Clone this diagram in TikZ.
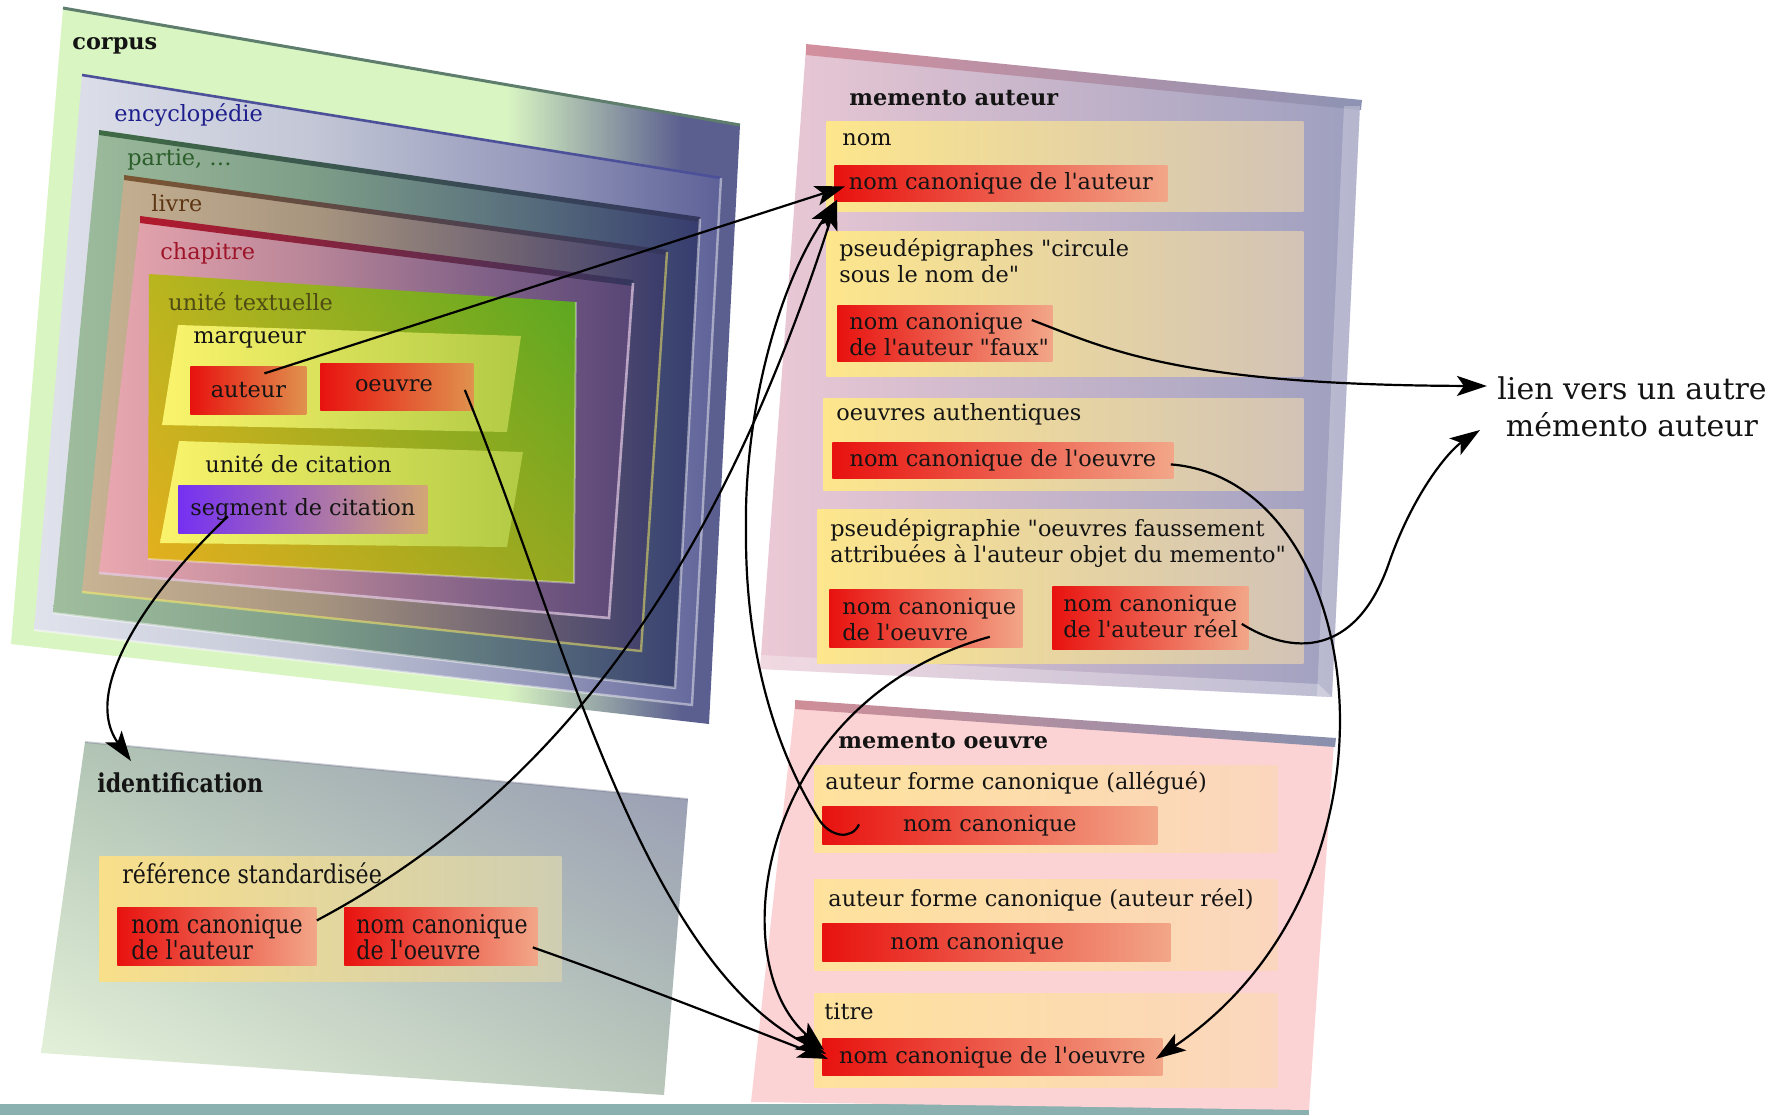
\documentclass[tikz,border=0pt]{standalone}
\usepackage{fontspec}
\newfontfamily\dvfont{DejaVu Serif}
\newfontfamily\dvcond{DejaVu Serif}[FakeStretch=0.85]
\usetikzlibrary{arrows.meta,calc,shadings}
\definecolor{cgreen}{HTML}{D9F5C2}
\definecolor{cslate}{HTML}{5B5F8F}
\definecolor{corpTop}{HTML}{5E7D6C}
\definecolor{encL}{HTML}{E0E3EC}
\definecolor{encM}{HTML}{C3C7D6}
\definecolor{encMM}{HTML}{9497BA}
\definecolor{encR}{HTML}{5D6197}
\definecolor{encTop}{HTML}{4C5098}
\definecolor{parL}{HTML}{A0BE9E}
\definecolor{parM}{HTML}{7E9E88}
\definecolor{parMM}{HTML}{566C7C}
\definecolor{parR}{HTML}{373C6E}
\definecolor{parTop}{HTML}{3F6B45}
\definecolor{livL}{HTML}{C8B393}
\definecolor{livM}{HTML}{A8957F}
\definecolor{livMM}{HTML}{6E6272}
\definecolor{livR}{HTML}{3A3B6B}
\definecolor{livTop}{HTML}{7B5632}
\definecolor{chaL}{HTML}{EAA8B0}
\definecolor{chaM}{HTML}{B88598}
\definecolor{chaMM}{HTML}{7E5F86}
\definecolor{chaR}{HTML}{584676}
\definecolor{chaTop}{HTML}{B3192C}
\definecolor{darkTop}{HTML}{34365E}
\definecolor{utUL}{HTML}{B9B51F}
\definecolor{utUR}{HTML}{58A821}
\definecolor{utLL}{HTML}{E6AF1E}
\definecolor{utLR}{HTML}{93A820}
\definecolor{mqL}{HTML}{FAF46C}
\definecolor{mqR}{HTML}{B2CA44}
\definecolor{redL}{HTML}{E8120F}
\definecolor{redR}{HTML}{F2A688}
\definecolor{redR2}{HTML}{E0924E}
\definecolor{segL}{HTML}{7530F2}
\definecolor{segR}{HTML}{D3A676}
\definecolor{yelL}{HTML}{FDE68C}
\definecolor{yelR}{HTML}{D2C3B6}
\definecolor{moYL}{HTML}{FEE29C}
\definecolor{moYR}{HTML}{FBD6BE}
\definecolor{refYL}{HTML}{F8DF8A}
\definecolor{refYR}{HTML}{CFCEB2}
\definecolor{maL}{HTML}{ECC9D5}
\definecolor{maR}{HTML}{9D9FBF}
\definecolor{maTL}{HTML}{D38F9D}
\definecolor{maTR}{HTML}{8E93B3}
\definecolor{moP}{HTML}{FCD3D4}
\definecolor{moTL}{HTML}{CF8E98}
\definecolor{moTR}{HTML}{8890AD}
\definecolor{idUL}{HTML}{B3C7B4}
\definecolor{idUR}{HTML}{9699B4}
\definecolor{idLL}{HTML}{EAF6DE}
\definecolor{idLR}{HTML}{B7C6B9}
\definecolor{bandc}{HTML}{8AB0AF}
\definecolor{txtc}{HTML}{141414}
\definecolor{encC}{HTML}{1E1E8C}
\definecolor{parC}{HTML}{2C5E2C}
\definecolor{livC}{HTML}{5E3614}
\definecolor{chaC}{HTML}{9E1428}
\definecolor{utC}{HTML}{4E4C14}
\pgfdeclarehorizontalshading{corpusshade}{100bp}{color(0bp)=(cgreen); color(25bp)=(cgreen); color(59bp)=(cgreen); color(71bp)=(cslate); color(100bp)=(cslate)}
\pgfdeclarehorizontalshading{encshade}{100bp}{color(0bp)=(encL); color(25bp)=(encL); color(45bp)=(encM); color(62bp)=(encMM); color(75bp)=(encR); color(100bp)=(encR)}
\pgfdeclarehorizontalshading{parshade}{100bp}{color(0bp)=(parL); color(25bp)=(parL); color(45bp)=(parM); color(62bp)=(parMM); color(75bp)=(parR); color(100bp)=(parR)}
\pgfdeclarehorizontalshading{livshade}{100bp}{color(0bp)=(livL); color(25bp)=(livL); color(45bp)=(livM); color(62bp)=(livMM); color(75bp)=(livR); color(100bp)=(livR)}
\pgfdeclarehorizontalshading{chashade}{100bp}{color(0bp)=(chaL); color(25bp)=(chaL); color(45bp)=(chaM); color(62bp)=(chaMM); color(75bp)=(chaR); color(100bp)=(chaR)}
\begin{document}
\begin{tikzpicture}[x=0.5pt,y=-0.5pt,
  txt/.style={inner sep=0pt, anchor=west, text=txtc, font=\dvfont\fontsize{11.2}{13}\selectfont, align=left},
  btxt/.style={txt, font=\dvfont\fontsize{11.2}{13}\selectfont\bfseries},
  ctxt/.style={txt, font=\dvcond\fontsize{13}{13}\selectfont},
  cbtxt/.style={txt, font=\dvcond\fontsize{13}{13}\selectfont\bfseries},
  rbox/.style={inner sep=0pt, anchor=north west, left color=redL, right color=redR},
  ybox/.style={inner sep=0pt, anchor=north west, left color=yelL, right color=yelR},
  conn/.style={line width=1.1pt, draw=black, -{Stealth[length=15pt,width=10pt,inset=3.5pt]}},
]
\useasboundingbox (0,0) rectangle (1785,1115);
\fill[bandc] (0,1104) rectangle (1309,1115);

% ---------- identification panel
\shade[upper left=idUL, upper right=idUR, lower left=idLL, lower right=idLR]
  (85,742) -- (688,799) -- (664,1095) -- (41,1053) -- cycle;
\draw[idUR!80!black, opacity=.35, line width=1pt] (85,742) -- (688,799);

% ---------- memento auteur panel
\shade[left color=maL, right color=maR] (806,48) -- (1360,105) -- (1332,697) -- (760,669) -- cycle;
\shade[left color=maTL, right color=maTR] (806,44) -- (1362,100) -- (1361,110) -- (806,55) -- cycle;
\fill[white, opacity=.25] (1344,106) -- (1360,106) -- (1332,697) -- (1317,696) -- cycle;
\fill[white, opacity=.3] (761,655) -- (1318,684) -- (1332,697) -- (760,669) -- cycle;

% ---------- memento oeuvre panel
\fill[moP] (795,704) -- (1334,742) -- (1309,1110) -- (751,1102) -- cycle;
\shade[left color=moTL, right color=moTR] (795,700) -- (1336,738) -- (1335,747) -- (795,709) -- cycle;

% ---------- corpus nest
\shade[shading=corpusshade] (63,8) -- (740,125) -- (709,724) -- (11,644) -- cycle;
\draw[corpTop, line width=1.5pt] (63,8) -- (740,125);
\shade[shading=encshade] (82,75) -- (721,178) -- (692,705) -- (34,630) -- cycle;
\draw[encTop, line width=1.3pt] (82,75) -- (721,178);
\draw[white, opacity=.45, line width=1.2pt] (721,178) -- (692,705) -- (34,630);
\shade[shading=parshade] (99,132) -- (700,219) -- (675,688) -- (53,613) -- cycle;
\shade[left color=parTop, right color=darkTop] (99,130) -- (700,217) -- (700,222) -- (99,135) -- cycle;
\draw[white, opacity=.45, line width=1.2pt] (700,219) -- (675,688) -- (53,613);
\shade[shading=livshade] (124,177) -- (667,252) -- (641,651) -- (82,592) -- cycle;
\shade[left color=livTop, right color=darkTop] (124,175) -- (667,250) -- (667,255) -- (124,180) -- cycle;
\draw[yellow!60!white, opacity=.5, line width=1.2pt] (667,252) -- (641,651) -- (82,592);
\shade[shading=chashade] (140,219) -- (633,283) -- (609,618) -- (99,573) -- cycle;
\shade[left color=chaTop, right color=darkTop] (140,216) -- (633,280) -- (633,286) -- (140,223) -- cycle;
\draw[violet!20!white, opacity=.7, line width=1.3pt] (633,283) -- (609,618) -- (99,573);
\shade[upper left=utUL, upper right=utUR, lower left=utLL, lower right=utLR]
  (149,274) -- (576,302) -- (574,583) -- (148,559) -- cycle;
\draw[white, opacity=.35, line width=1pt] (576,302) -- (574,583) -- (148,559);
\shade[left color=mqL, right color=mqR] (178,325) -- (521,336) -- (507,432) -- (162,425) -- cycle;
\shade[left color=mqL, right color=mqR] (179,441) -- (523,452) -- (507,547) -- (160,543) -- cycle;

\node[btxt] (lcorpus) at (72,46) {corpus};
\node[txt, text=encC] (lenc) at (114,115) {encyclopédie};
\node[txt, text=parC] (lpar) at (127,160) {partie, …};
\node[txt, text=livC] (lliv) at (151,203) {livre};
\node[txt, text=chaC] (lcha) at (160,253) {chapitre};
\node[txt, text=utC] (lut) at (168,302) {unité textuelle};
\node[txt] (lmq) at (193,340) {marqueur};
\node[txt] (ludc) at (205,464) {unité de citation};

\node[rbox, right color=redR2, minimum width=58pt, minimum height=24pt] (rAut) at (190,366) {};
\node[txt, anchor=center] (tAut) at (rAut) {auteur};
\node[rbox, right color=redR2, minimum width=76.5pt, minimum height=23.5pt] (rOeu) at (320,363) {};
\node[txt, anchor=center] (tOeu) at ($(rOeu.center)+(-3,-1)$) {oeuvre};
\node[rbox, left color=segL, right color=segR, minimum width=124.5pt, minimum height=24pt] (rSeg) at (178,485) {};
\node[txt, anchor=center] (tSeg) at (rSeg) {segment de citation};

% ---------- identification content
\node[cbtxt] (lid) at (97,783) {identification};
\node[ybox, left color=refYL, right color=refYR, minimum width=231pt, minimum height=62.5pt] (yRef) at (99,856) {};
\node[ctxt] (lref) at (122,873) {référence standardisée};
\node[rbox, minimum width=99.5pt, minimum height=29pt] (rR1) at (117,907) {};
\node[ctxt] (tR1) at ($(rR1.west)+(14,1)$) {nom canonique\\de l'auteur};
\node[rbox, minimum width=96.5pt, minimum height=29pt] (rR2) at (344,907) {};
\node[ctxt] (tR2) at ($(rR2.west)+(12,1)$) {nom canonique\\de l'oeuvre};

% ---------- memento auteur content
\node[btxt] (lma) at (849,98) {memento auteur};
\node[ybox, minimum width=238.5pt, minimum height=45pt] (yNom) at (826,121) {};
\node[txt] (lnom) at (842,140) {nom};
\node[rbox, minimum width=166.5pt, minimum height=18pt] (rA1) at (834,165) {};
\node[txt, anchor=center] (tA1) at (rA1) {nom canonique de l'auteur};
\node[ybox, minimum width=238.5pt, minimum height=72.5pt] (yPs) at (826,231) {};
\node[txt] (lps) at (839,261) {pseudépigraphes "circule\\sous le nom de"};
\node[rbox, minimum width=107.5pt, minimum height=28pt] (rPf) at (837,305) {};
\node[txt] (tPf) at ($(rPf.west)+(12,1)$) {nom canonique\\de l'auteur "faux"};
\node[ybox, minimum width=240pt, minimum height=46pt] (yOA) at (823,398) {};
\node[txt] (loa) at (836,414) {oeuvres authentiques};
\node[rbox, minimum width=170.5pt, minimum height=18pt] (rOA) at (832,442) {};
\node[txt, anchor=center] (tOA) at (rOA) {nom canonique de l'oeuvre};
\node[ybox, minimum width=243pt, minimum height=77pt] (yPd) at (817,509) {};
\node[txt] (lpd) at (830,543) {pseudépigraphie "oeuvres faussement\\attribuées à l'auteur objet du memento"};
\node[rbox, minimum width=96.5pt, minimum height=29pt] (rP1) at (829,589) {};
\node[txt] (tP1) at ($(rP1.west)+(13,1)$) {nom canonique\\de l'oeuvre};
\node[rbox, minimum width=98pt, minimum height=31.5pt] (rP2) at (1052,586) {};
\node[txt] (tP2) at ($(rP2.west)+(11,-1)$) {nom canonique\\de l'auteur réel};

% ---------- memento oeuvre content
\node[btxt] (lmo) at (838,741) {memento oeuvre};
\node[ybox, left color=moYL, right color=moYR, minimum width=231.5pt, minimum height=43.5pt] (yO1) at (814,765) {};
\node[txt] (lo1) at (825,783) {auteur forme canonique (allégué)};
\node[rbox, minimum width=167.5pt, minimum height=19pt] (rO1) at (822,806) {};
\node[txt, anchor=center] (tO1) at (rO1) {nom canonique};
\node[ybox, left color=moYL, right color=moYR, minimum width=231.5pt, minimum height=45.5pt] (yO2) at (814,879) {};
\node[txt] (lo2) at (828,900) {auteur forme canonique (auteur réel)};
\node[rbox, minimum width=174pt, minimum height=19pt] (rO2) at (822,923) {};
\node[txt] (tO2) at ($(rO2.west)+(68,1)$) {nom canonique};
\node[ybox, left color=moYL, right color=moYR, minimum width=231.5pt, minimum height=47pt] (yO3) at (814,993) {};
\node[txt] (lo3) at (824,1011) {titre};
\node[rbox, minimum width=170pt, minimum height=18.5pt] (rT) at (822,1038) {};
\node[txt, anchor=center] (tT) at (rT) {nom canonique de l'oeuvre};

% ---------- side text
\node[txt, anchor=center, align=center, font=\dvfont\fontsize{15}{18.5}\selectfont] (lien) at (1632,407) {lien vers un autre\\mémento auteur};
\coordinate (idtop) at (131,761);

% ---------- connectors
\draw[conn] ($(rAut.center)+(16,-17)$) -- ($(rA1.west)+(11,3)$);
\draw[conn] ($(rR1.east)+(0,-16)$) .. controls (600,770) and (740,500) .. ($(rA1.south west)+(3,-2)$);
\draw[conn] ($(rO1.west)+(37,-1)$) .. controls (852,840) and (830,838) .. (818,818)
  .. controls (770,740) and (745,640) .. (746,530)
  .. controls (744,420) and (775,290) .. ($(rA1.south west)+(3,-2)$);
\draw[conn] ($(rOeu.east)+(-9,3)$) .. controls (560,620) and (640,960) .. ($(rT.west)+(4,-3)$);
\draw[conn] ($(rR2.east)+(-5,11)$) .. controls (640,985) and (740,1025) .. ($(rT.west)+(6,2)$);
\draw[conn] ($(rP1.south east)+(-33,-11)$) .. controls (760,700) and (720,960) .. ($(rT.west)+(2,-7)$);
\draw[conn] ($(rOA.east)+(-3,4)$) .. controls (1370,480) and (1420,880) .. ($(rT.east)+(-7,2)$);
\draw[conn] ($(rPf.north east)+(-21,15)$) .. controls (1110,350) and (1180,385) .. ($(lien.west)+(-10,-21)$);
\draw[conn] ($(rP2.east)+(-7,6)$) .. controls (1300,660) and (1360,650) .. (1390,560)
  .. controls (1415,490) and (1450,450) .. ($(lien.west)+(-17,23)$);
\draw[conn] ($(rSeg.center)+(-75,7)$) .. controls (150,590) and (80,690) .. (idtop);
\end{tikzpicture}
\end{document}
